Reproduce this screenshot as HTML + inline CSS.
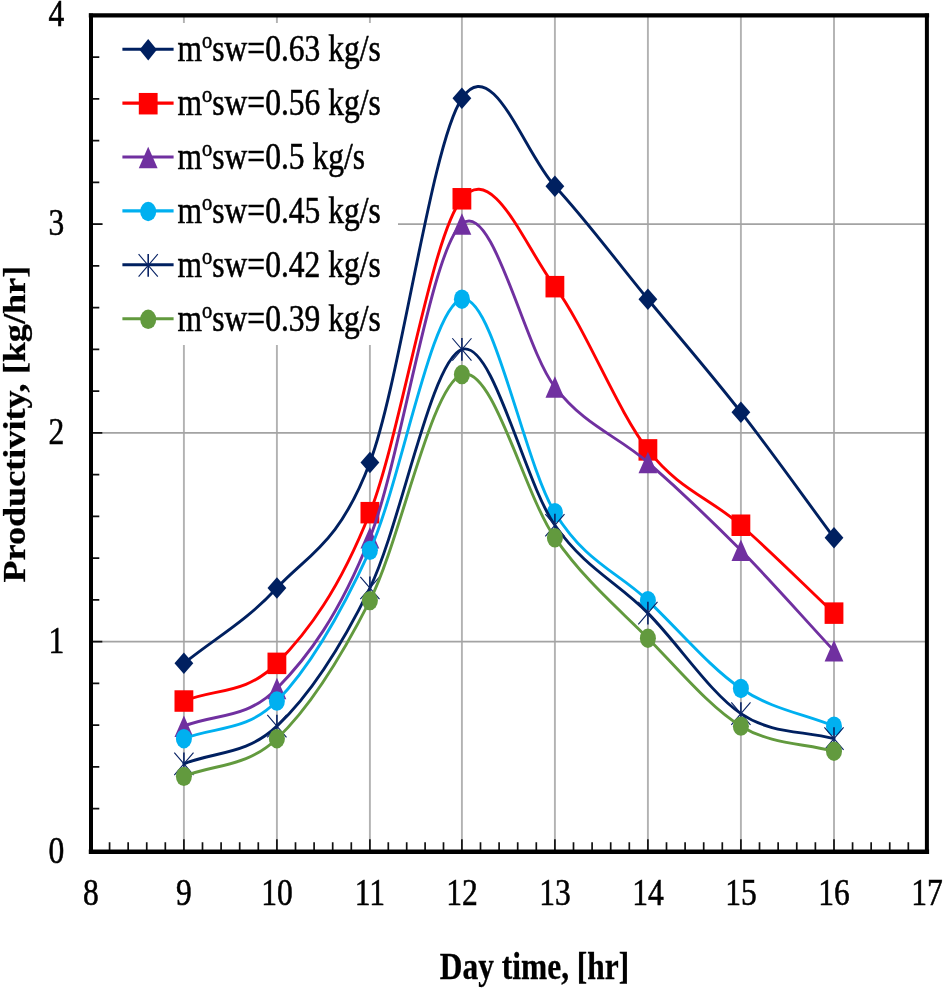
<!DOCTYPE html><html><head><meta charset="utf-8"><style>html,body{margin:0;padding:0;background:#fff;}svg{display:block;will-change:transform;filter:blur(0.4px);}</style></head><body>
<svg width="944" height="988" viewBox="0 0 944 988">
<rect width="944" height="988" fill="#fff"/>
<path d="M183.90,15.40 V851.80 M276.90,15.40 V851.80 M369.90,15.40 V851.80 M461.90,15.40 V851.80 M554.90,15.40 V851.80 M647.90,15.40 V851.80 M740.90,15.40 V851.80 M834.00,15.40 V851.80" stroke="#b2b2b2" stroke-width="1.9" fill="none"/>
<path d="M91.00,641.60 H926.90 M91.00,432.85 H926.90 M91.00,224.10 H926.90" stroke="#a3a3a3" stroke-width="1.6" fill="none"/>
<rect x="103" y="23" width="295" height="322" fill="#fff"/>
<path d="M109.58,842.30 V851.80 M128.16,842.30 V851.80 M146.74,842.30 V851.80 M165.32,842.30 V851.80 M183.90,839.30 V851.80 M202.50,842.30 V851.80 M221.10,842.30 V851.80 M239.70,842.30 V851.80 M258.30,842.30 V851.80 M276.90,839.30 V851.80 M295.50,842.30 V851.80 M314.10,842.30 V851.80 M332.70,842.30 V851.80 M351.30,842.30 V851.80 M369.90,839.30 V851.80 M388.30,842.30 V851.80 M406.70,842.30 V851.80 M425.10,842.30 V851.80 M443.50,842.30 V851.80 M461.90,839.30 V851.80 M480.50,842.30 V851.80 M499.10,842.30 V851.80 M517.70,842.30 V851.80 M536.30,842.30 V851.80 M554.90,839.30 V851.80 M573.50,842.30 V851.80 M592.10,842.30 V851.80 M610.70,842.30 V851.80 M629.30,842.30 V851.80 M647.90,839.30 V851.80 M666.50,842.30 V851.80 M685.10,842.30 V851.80 M703.70,842.30 V851.80 M722.30,842.30 V851.80 M740.90,839.30 V851.80 M759.52,842.30 V851.80 M778.14,842.30 V851.80 M796.76,842.30 V851.80 M815.38,842.30 V851.80 M834.00,839.30 V851.80 M852.58,842.30 V851.80 M871.16,842.30 V851.80 M889.74,842.30 V851.80 M908.32,842.30 V851.80 M91.00,808.60 H99.30 M91.00,766.85 H99.30 M91.00,725.10 H99.30 M91.00,683.35 H99.30 M91.00,641.60 H102.30 M91.00,599.85 H99.30 M91.00,558.10 H99.30 M91.00,516.35 H99.30 M91.00,474.60 H99.30 M91.00,432.85 H102.30 M91.00,391.10 H99.30 M91.00,349.35 H99.30 M91.00,307.60 H99.30 M91.00,265.85 H99.30 M91.00,224.10 H102.30 M91.00,182.35 H99.30 M91.00,140.60 H99.30 M91.00,98.85 H99.30 M91.00,57.10 H99.30" stroke="#111" stroke-width="1.7" fill="none"/>
<path d="M91.00,15.40 H926.90 M91.00,851.80 H926.90" stroke="#000" stroke-width="4.4" fill="none" stroke-linecap="square"/>
<path d="M91.00,15.40 V851.80 M926.90,15.40 V851.80" stroke="#000" stroke-width="4.0" fill="none" stroke-linecap="square"/>
<path d="M183.90,663.36 C214.90,638.24 245.90,621.50 276.90,588.02 C307.90,554.54 339.07,544.07 369.90,462.46 C400.73,380.84 431.07,144.37 461.90,98.33 C492.73,52.29 523.90,152.74 554.90,186.22 C585.90,219.70 616.90,261.56 647.90,299.23 C678.90,336.90 709.88,372.47 740.90,412.23 C771.92,451.99 802.97,495.94 834.00,537.80" stroke="#002060" stroke-width="2.9" fill="none" stroke-linejoin="round" stroke-linecap="round"/>
<path d="M183.90,652.61 L193.30,663.36 L183.90,674.11 L174.50,663.36 Z" fill="#002060"/>
<path d="M276.90,577.27 L286.30,588.02 L276.90,598.77 L267.50,588.02 Z" fill="#002060"/>
<path d="M369.90,451.71 L379.30,462.46 L369.90,473.21 L360.50,462.46 Z" fill="#002060"/>
<path d="M461.90,87.58 L471.30,98.33 L461.90,109.08 L452.50,98.33 Z" fill="#002060"/>
<path d="M554.90,175.47 L564.30,186.22 L554.90,196.97 L545.50,186.22 Z" fill="#002060"/>
<path d="M647.90,288.48 L657.30,299.23 L647.90,309.98 L638.50,299.23 Z" fill="#002060"/>
<path d="M740.90,401.48 L750.30,412.23 L740.90,422.98 L731.50,412.23 Z" fill="#002060"/>
<path d="M834.00,527.05 L843.40,537.80 L834.00,548.55 L824.60,537.80 Z" fill="#002060"/>
<path d="M183.90,701.03 C214.90,688.47 245.90,694.75 276.90,663.36 C307.90,631.97 339.07,590.11 369.90,512.68 C400.73,435.25 431.07,236.45 461.90,198.78 C492.73,161.11 523.90,244.82 554.90,286.67 C585.90,328.52 616.90,410.14 647.90,449.90 C678.90,489.66 709.88,498.03 740.90,525.24 C771.92,552.44 802.97,583.83 834.00,613.13" stroke="#FF0000" stroke-width="2.9" fill="none" stroke-linejoin="round" stroke-linecap="round"/>
<rect x="174.50" y="690.28" width="18.80" height="21.50" fill="#FF0000"/>
<rect x="267.50" y="652.61" width="18.80" height="21.50" fill="#FF0000"/>
<rect x="360.50" y="501.93" width="18.80" height="21.50" fill="#FF0000"/>
<rect x="452.50" y="188.03" width="18.80" height="21.50" fill="#FF0000"/>
<rect x="545.50" y="275.92" width="18.80" height="21.50" fill="#FF0000"/>
<rect x="638.50" y="439.15" width="18.80" height="21.50" fill="#FF0000"/>
<rect x="731.50" y="514.49" width="18.80" height="21.50" fill="#FF0000"/>
<rect x="824.60" y="602.38" width="18.80" height="21.50" fill="#FF0000"/>
<path d="M183.90,726.14 C214.90,713.58 245.90,719.86 276.90,688.47 C307.90,657.08 339.07,615.22 369.90,537.80 C400.73,460.37 431.07,249.00 461.90,223.89 C492.73,198.78 523.90,347.36 554.90,387.12 C585.90,426.88 616.90,435.25 647.90,462.46 C678.90,489.66 709.88,518.96 740.90,550.35 C771.92,581.74 802.97,617.32 834.00,650.80" stroke="#7030A0" stroke-width="2.9" fill="none" stroke-linejoin="round" stroke-linecap="round"/>
<path d="M183.90,715.39 L193.30,736.89 L174.50,736.89 Z" fill="#7030A0"/>
<path d="M276.90,677.72 L286.30,699.22 L267.50,699.22 Z" fill="#7030A0"/>
<path d="M369.90,527.05 L379.30,548.55 L360.50,548.55 Z" fill="#7030A0"/>
<path d="M461.90,213.14 L471.30,234.64 L452.50,234.64 Z" fill="#7030A0"/>
<path d="M554.90,376.37 L564.30,397.87 L545.50,397.87 Z" fill="#7030A0"/>
<path d="M647.90,451.71 L657.30,473.21 L638.50,473.21 Z" fill="#7030A0"/>
<path d="M740.90,539.60 L750.30,561.10 L731.50,561.10 Z" fill="#7030A0"/>
<path d="M834.00,640.05 L843.40,661.55 L824.60,661.55 Z" fill="#7030A0"/>
<path d="M183.90,738.69 C214.90,726.14 245.90,732.42 276.90,701.03 C307.90,669.64 339.07,617.32 369.90,550.35 C400.73,483.38 431.07,305.51 461.90,299.23 C492.73,292.95 523.90,462.46 554.90,512.68 C585.90,562.91 616.90,571.28 647.90,600.58 C678.90,629.87 709.88,667.54 740.90,688.47 C771.92,709.40 802.97,713.58 834.00,726.14" stroke="#00B0F0" stroke-width="2.9" fill="none" stroke-linejoin="round" stroke-linecap="round"/>
<ellipse cx="183.90" cy="738.69" rx="8.00" ry="9.70" fill="#00B0F0"/>
<ellipse cx="276.90" cy="701.03" rx="8.00" ry="9.70" fill="#00B0F0"/>
<ellipse cx="369.90" cy="550.35" rx="8.00" ry="9.70" fill="#00B0F0"/>
<ellipse cx="461.90" cy="299.23" rx="8.00" ry="9.70" fill="#00B0F0"/>
<ellipse cx="554.90" cy="512.68" rx="8.00" ry="9.70" fill="#00B0F0"/>
<ellipse cx="647.90" cy="600.58" rx="8.00" ry="9.70" fill="#00B0F0"/>
<ellipse cx="740.90" cy="688.47" rx="8.00" ry="9.70" fill="#00B0F0"/>
<ellipse cx="834.00" cy="726.14" rx="8.00" ry="9.70" fill="#00B0F0"/>
<path d="M183.90,763.81 C214.90,751.25 245.90,755.44 276.90,726.14 C307.90,696.84 339.07,650.80 369.90,588.02 C400.73,525.24 431.07,359.92 461.90,349.45 C492.73,338.99 523.90,481.29 554.90,525.24 C585.90,569.19 616.90,581.74 647.90,613.13 C678.90,644.52 709.88,692.65 740.90,713.58 C771.92,734.51 802.97,730.32 834.00,738.69" stroke="#002060" stroke-width="2.9" fill="none" stroke-linejoin="round" stroke-linecap="round"/>
<path d="M183.90,752.41 V775.21" stroke="#0a2466" stroke-width="1.6" fill="none"/><path d="M174.30,752.61 L193.50,775.01 M193.50,752.61 L174.30,775.01" stroke="#0a2466" stroke-width="1.15" fill="none"/>
<path d="M276.90,714.74 V737.54" stroke="#0a2466" stroke-width="1.6" fill="none"/><path d="M267.30,714.94 L286.50,737.34 M286.50,714.94 L267.30,737.34" stroke="#0a2466" stroke-width="1.15" fill="none"/>
<path d="M369.90,576.62 V599.42" stroke="#0a2466" stroke-width="1.6" fill="none"/><path d="M360.30,576.82 L379.50,599.22 M379.50,576.82 L360.30,599.22" stroke="#0a2466" stroke-width="1.15" fill="none"/>
<path d="M461.90,338.05 V360.85" stroke="#0a2466" stroke-width="1.6" fill="none"/><path d="M452.30,338.25 L471.50,360.65 M471.50,338.25 L452.30,360.65" stroke="#0a2466" stroke-width="1.15" fill="none"/>
<path d="M554.90,513.84 V536.64" stroke="#0a2466" stroke-width="1.6" fill="none"/><path d="M545.30,514.04 L564.50,536.44 M564.50,514.04 L545.30,536.44" stroke="#0a2466" stroke-width="1.15" fill="none"/>
<path d="M647.90,601.73 V624.53" stroke="#0a2466" stroke-width="1.6" fill="none"/><path d="M638.30,601.93 L657.50,624.33 M657.50,601.93 L638.30,624.33" stroke="#0a2466" stroke-width="1.15" fill="none"/>
<path d="M740.90,702.18 V724.98" stroke="#0a2466" stroke-width="1.6" fill="none"/><path d="M731.30,702.38 L750.50,724.78 M750.50,702.38 L731.30,724.78" stroke="#0a2466" stroke-width="1.15" fill="none"/>
<path d="M834.00,727.29 V750.09" stroke="#0a2466" stroke-width="1.6" fill="none"/><path d="M824.40,727.49 L843.60,749.89 M843.60,727.49 L824.40,749.89" stroke="#0a2466" stroke-width="1.15" fill="none"/>
<path d="M183.90,776.36 C214.90,763.81 245.90,767.99 276.90,738.69 C307.90,709.40 339.07,661.26 369.90,600.58 C400.73,539.89 431.07,385.03 461.90,374.56 C492.73,364.10 523.90,493.85 554.90,537.80 C585.90,581.74 616.90,606.85 647.90,638.24 C678.90,669.64 709.88,707.30 740.90,726.14 C771.92,744.97 802.97,742.88 834.00,751.25" stroke="#629A3E" stroke-width="2.9" fill="none" stroke-linejoin="round" stroke-linecap="round"/>
<ellipse cx="183.90" cy="776.36" rx="8.00" ry="9.70" fill="#629A3E"/>
<ellipse cx="276.90" cy="738.69" rx="8.00" ry="9.70" fill="#629A3E"/>
<ellipse cx="369.90" cy="600.58" rx="8.00" ry="9.70" fill="#629A3E"/>
<ellipse cx="461.90" cy="374.56" rx="8.00" ry="9.70" fill="#629A3E"/>
<ellipse cx="554.90" cy="537.80" rx="8.00" ry="9.70" fill="#629A3E"/>
<ellipse cx="647.90" cy="638.24" rx="8.00" ry="9.70" fill="#629A3E"/>
<ellipse cx="740.90" cy="726.14" rx="8.00" ry="9.70" fill="#629A3E"/>
<ellipse cx="834.00" cy="751.25" rx="8.00" ry="9.70" fill="#629A3E"/>
<text transform="translate(64.30,862.50) scale(0.852,1)" text-anchor="end" font-family="Liberation Serif" font-size="37" stroke="#000" stroke-width="0.55">0</text>
<text transform="translate(64.30,653.40) scale(0.852,1)" text-anchor="end" font-family="Liberation Serif" font-size="37" stroke="#000" stroke-width="0.55">1</text>
<text transform="translate(64.30,444.30) scale(0.852,1)" text-anchor="end" font-family="Liberation Serif" font-size="37" stroke="#000" stroke-width="0.55">2</text>
<text transform="translate(64.30,235.20) scale(0.852,1)" text-anchor="end" font-family="Liberation Serif" font-size="37" stroke="#000" stroke-width="0.55">3</text>
<text transform="translate(64.30,26.10) scale(0.852,1)" text-anchor="end" font-family="Liberation Serif" font-size="37" stroke="#000" stroke-width="0.55">4</text>
<text transform="translate(91.00,904.50) scale(0.852,1)" text-anchor="middle" font-family="Liberation Serif" font-size="37" stroke="#000" stroke-width="0.55">8</text>
<text transform="translate(183.90,904.50) scale(0.852,1)" text-anchor="middle" font-family="Liberation Serif" font-size="37" stroke="#000" stroke-width="0.55">9</text>
<text transform="translate(276.90,904.50) scale(0.852,1)" text-anchor="middle" font-family="Liberation Serif" font-size="37" stroke="#000" stroke-width="0.55">10</text>
<text transform="translate(369.90,904.50) scale(0.852,1)" text-anchor="middle" font-family="Liberation Serif" font-size="37" stroke="#000" stroke-width="0.55">11</text>
<text transform="translate(461.90,904.50) scale(0.852,1)" text-anchor="middle" font-family="Liberation Serif" font-size="37" stroke="#000" stroke-width="0.55">12</text>
<text transform="translate(554.90,904.50) scale(0.852,1)" text-anchor="middle" font-family="Liberation Serif" font-size="37" stroke="#000" stroke-width="0.55">13</text>
<text transform="translate(647.90,904.50) scale(0.852,1)" text-anchor="middle" font-family="Liberation Serif" font-size="37" stroke="#000" stroke-width="0.55">14</text>
<text transform="translate(740.90,904.50) scale(0.852,1)" text-anchor="middle" font-family="Liberation Serif" font-size="37" stroke="#000" stroke-width="0.55">15</text>
<text transform="translate(834.00,904.50) scale(0.852,1)" text-anchor="middle" font-family="Liberation Serif" font-size="37" stroke="#000" stroke-width="0.55">16</text>
<text transform="translate(926.90,904.50) scale(0.852,1)" text-anchor="middle" font-family="Liberation Serif" font-size="37" stroke="#000" stroke-width="0.55">17</text>
<text transform="translate(534.50,978.50) scale(0.850,1)" text-anchor="middle" font-family="Liberation Serif" font-size="37" font-weight="bold" stroke="#000" stroke-width="0.3">Day time, [hr]</text>
<text transform="translate(25.3,424.2) scale(0.852,0.978) rotate(-90)" text-anchor="middle" font-family="Liberation Serif" font-size="37" font-weight="bold" stroke="#000" stroke-width="0.3">Productivity, [kg/hr]</text>
<path d="M122.4,49.20 H173.6" stroke="#002060" stroke-width="3.1"/>
<path d="M148.20,39.05 L156.90,49.80 L148.20,60.55 L139.50,49.80 Z" fill="#002060"/>
<text transform="translate(177.60,61.30) scale(0.852,1)" text-anchor="start" font-family="Liberation Serif" font-size="37" stroke="#000" stroke-width="0.55">m<tspan font-size="24" dy="-13.3">o</tspan><tspan dy="13.3">sw=0.63 kg/s</tspan></text>
<path d="M122.4,103.10 H173.6" stroke="#FF0000" stroke-width="3.1"/>
<rect x="138.80" y="92.95" width="18.80" height="21.50" fill="#FF0000"/>
<text transform="translate(177.60,115.20) scale(0.852,1)" text-anchor="start" font-family="Liberation Serif" font-size="37" stroke="#000" stroke-width="0.55">m<tspan font-size="24" dy="-13.3">o</tspan><tspan dy="13.3">sw=0.56 kg/s</tspan></text>
<path d="M122.4,157.00 H173.6" stroke="#7030A0" stroke-width="3.1"/>
<path d="M148.20,146.85 L157.60,168.35 L138.80,168.35 Z" fill="#7030A0"/>
<text transform="translate(177.60,169.10) scale(0.852,1)" text-anchor="start" font-family="Liberation Serif" font-size="37" stroke="#000" stroke-width="0.55">m<tspan font-size="24" dy="-13.3">o</tspan><tspan dy="13.3">sw=0.5 kg/s</tspan></text>
<path d="M122.4,210.90 H173.6" stroke="#00B0F0" stroke-width="3.1"/>
<ellipse cx="148.20" cy="211.50" rx="8.00" ry="9.70" fill="#00B0F0"/>
<text transform="translate(177.60,223.00) scale(0.852,1)" text-anchor="start" font-family="Liberation Serif" font-size="37" stroke="#000" stroke-width="0.55">m<tspan font-size="24" dy="-13.3">o</tspan><tspan dy="13.3">sw=0.45 kg/s</tspan></text>
<path d="M122.4,264.80 H173.6" stroke="#002060" stroke-width="3.1"/>
<path d="M148.20,254.00 V276.80" stroke="#0a2466" stroke-width="1.6" fill="none"/><path d="M138.60,254.20 L157.80,276.60 M157.80,254.20 L138.60,276.60" stroke="#0a2466" stroke-width="1.15" fill="none"/>
<text transform="translate(177.60,276.90) scale(0.852,1)" text-anchor="start" font-family="Liberation Serif" font-size="37" stroke="#000" stroke-width="0.55">m<tspan font-size="24" dy="-13.3">o</tspan><tspan dy="13.3">sw=0.42 kg/s</tspan></text>
<path d="M122.4,318.70 H173.6" stroke="#629A3E" stroke-width="3.1"/>
<ellipse cx="148.20" cy="319.30" rx="8.00" ry="9.70" fill="#629A3E"/>
<text transform="translate(177.60,330.80) scale(0.852,1)" text-anchor="start" font-family="Liberation Serif" font-size="37" stroke="#000" stroke-width="0.55">m<tspan font-size="24" dy="-13.3">o</tspan><tspan dy="13.3">sw=0.39 kg/s</tspan></text>
</svg></body></html>
